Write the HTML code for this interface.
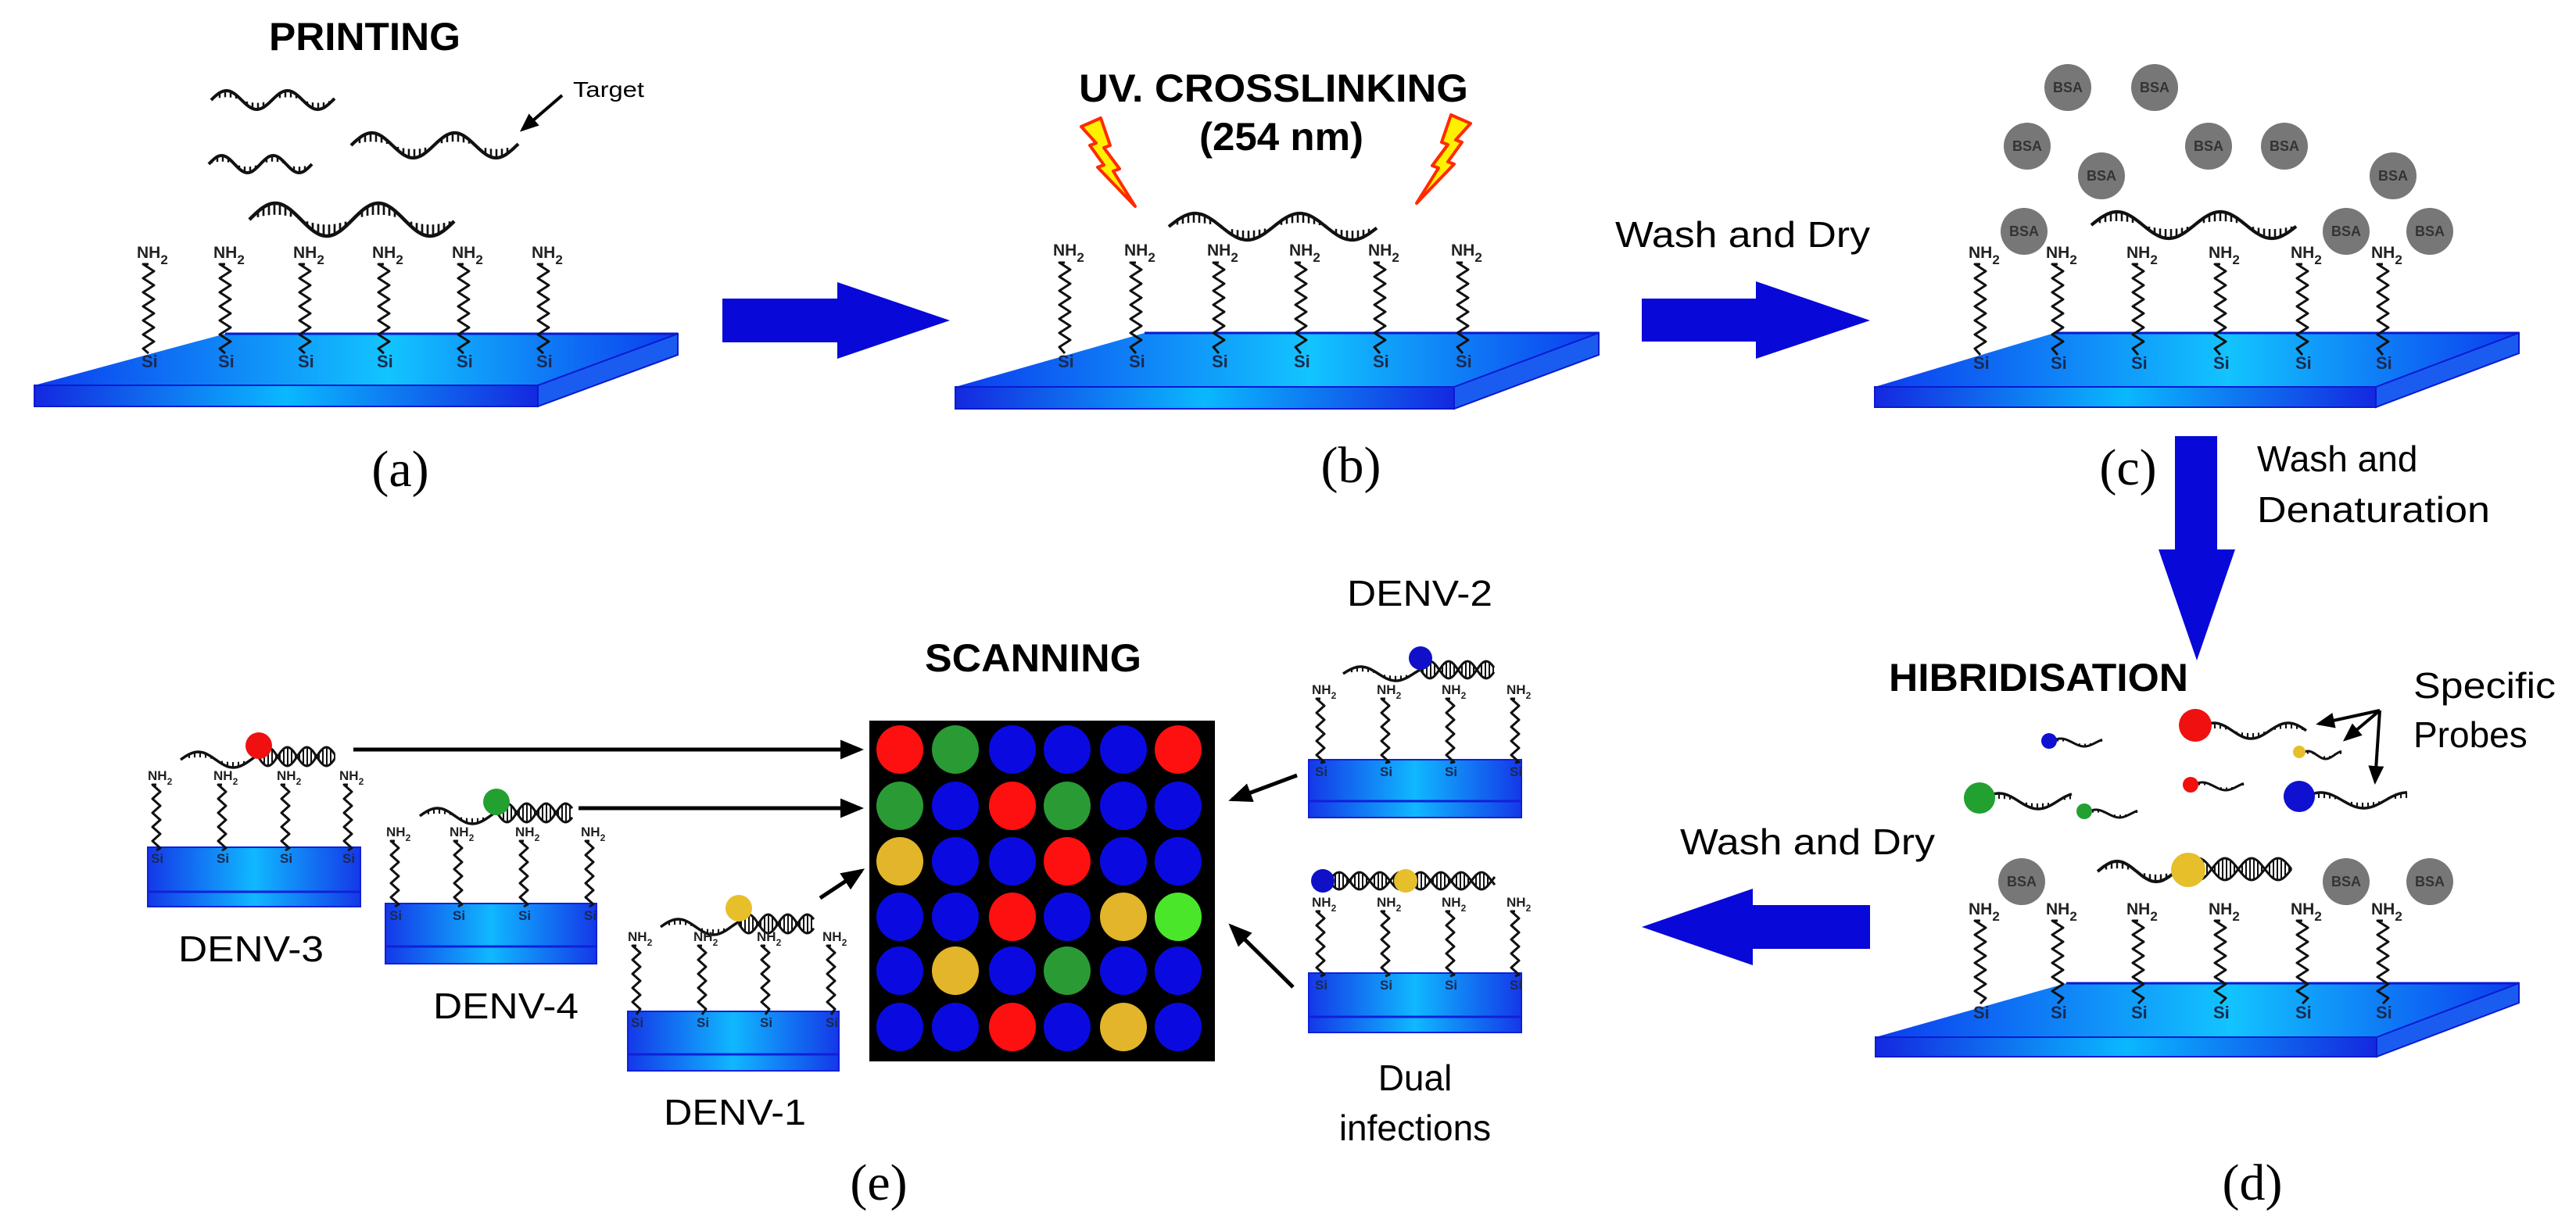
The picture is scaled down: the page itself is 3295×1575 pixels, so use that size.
<!DOCTYPE html>
<html><head><meta charset="utf-8"><style>
html,body{margin:0;padding:0;background:#fff;}
svg{display:block;}
.nh{font-family:"Liberation Sans",sans-serif;font-weight:bold;font-size:21px;fill:#222;}
.nhs{font-family:"Liberation Sans",sans-serif;font-weight:bold;font-size:17px;fill:#222;}
.si{font-family:"Liberation Sans",sans-serif;font-weight:bold;font-size:22px;fill:#1a2a50;}
.sis{font-family:"Liberation Sans",sans-serif;font-weight:bold;font-size:17px;fill:#1a2a50;}
.bsa{font-family:"Liberation Sans",sans-serif;font-weight:bold;font-size:18px;fill:#333;}
.t{font-family:"Liberation Sans",sans-serif;font-size:46px;fill:#000;}
.b{font-family:"Liberation Sans",sans-serif;font-weight:bold;font-size:50px;fill:#000;}
.l{font-family:"Liberation Serif",serif;font-size:66px;fill:#000;}
</style></head><body>
<svg id="svg" xmlns="http://www.w3.org/2000/svg" width="3295" height="1575" viewBox="0 0 3295 1575">
<defs>
<linearGradient id="gF" x1="0" x2="1" y1="0" y2="0"><stop offset="0" stop-color="#1428e0"/><stop offset="0.5" stop-color="#0ab8ff"/><stop offset="1" stop-color="#1428e0"/></linearGradient>
<linearGradient id="gT" x1="0" x2="1" y1="0" y2="0"><stop offset="0" stop-color="#0c3cee"/><stop offset="0.55" stop-color="#12c4ff"/><stop offset="1" stop-color="#0c3cee"/></linearGradient>
<linearGradient id="gP" x1="0" x2="1" y1="0" y2="0"><stop offset="0" stop-color="#1438e8"/><stop offset="0.5" stop-color="#10b8ff"/><stop offset="1" stop-color="#1438e8"/></linearGradient>
<marker id="ah" markerWidth="6" markerHeight="6" refX="5" refY="3" orient="auto" markerUnits="strokeWidth"><path d="M0,0.5 L6,3 L0,5.5 z" fill="#000"/></marker>
</defs>
<g id="shapes"></g>
<g id="texts">
<text class="b" x="344" y="64" textLength="245" lengthAdjust="spacingAndGlyphs">PRINTING</text>
<text class="b" x="1380" y="130" textLength="498" lengthAdjust="spacingAndGlyphs">UV. CROSSLINKING</text>
<text class="b" x="1534" y="192" textLength="210" lengthAdjust="spacingAndGlyphs">(254 nm)</text>
<text class="b" x="1183" y="859" textLength="277" lengthAdjust="spacingAndGlyphs">SCANNING</text>
<text class="b" x="2416" y="884" textLength="383" lengthAdjust="spacingAndGlyphs">HIBRIDISATION</text>
<text class="t" x="733" y="124" textLength="91" lengthAdjust="spacingAndGlyphs" style="font-size:28px">Target</text>
<text class="t" x="2066" y="316" textLength="326" lengthAdjust="spacingAndGlyphs">Wash and Dry</text>
<text class="t" x="2887" y="603">Wash and</text>
<text class="t" x="2887" y="668" textLength="298" lengthAdjust="spacingAndGlyphs">Denaturation</text>
<text class="t" x="3087" y="893" textLength="182" lengthAdjust="spacingAndGlyphs">Specific</text>
<text class="t" x="3087" y="956">Probes</text>
<text class="t" x="2149" y="1093" textLength="326" lengthAdjust="spacingAndGlyphs">Wash and Dry</text>
<text class="t" x="1723" y="775" textLength="186" lengthAdjust="spacingAndGlyphs">DENV-2</text>
<text class="t" x="228" y="1230" textLength="186" lengthAdjust="spacingAndGlyphs">DENV-3</text>
<text class="t" x="554" y="1303" textLength="186" lengthAdjust="spacingAndGlyphs">DENV-4</text>
<text class="t" x="849" y="1439" textLength="182" lengthAdjust="spacingAndGlyphs">DENV-1</text>
<text class="t" x="1810" y="1395" text-anchor="middle">Dual</text>
<text class="t" x="1810" y="1459" text-anchor="middle">infections</text>
<text class="l" x="512" y="622" text-anchor="middle">(a)</text>
<text class="l" x="1728" y="617" text-anchor="middle">(b)</text>
<text class="l" x="2722" y="620" text-anchor="middle">(c)</text>
<text class="l" x="2881" y="1535" text-anchor="middle">(d)</text>
<text class="l" x="1124" y="1535" text-anchor="middle">(e)</text>

<text class="nh" x="175" y="330">NH<tspan class="nhs" dy="8">2</tspan></text>
<text class="nh" x="273" y="330">NH<tspan class="nhs" dy="8">2</tspan></text>
<text class="nh" x="375" y="330">NH<tspan class="nhs" dy="8">2</tspan></text>
<text class="nh" x="476" y="330">NH<tspan class="nhs" dy="8">2</tspan></text>
<text class="nh" x="578" y="330">NH<tspan class="nhs" dy="8">2</tspan></text>
<text class="nh" x="680" y="330">NH<tspan class="nhs" dy="8">2</tspan></text>
<text class="si" x="181" y="470">Si</text><text class="si" x="279" y="470">Si</text><text class="si" x="381" y="470">Si</text><text class="si" x="482" y="470">Si</text><text class="si" x="584" y="470">Si</text><text class="si" x="686" y="470">Si</text>
<text class="nh" x="1347" y="327">NH<tspan class="nhs" dy="8">2</tspan></text>
<text class="nh" x="1438" y="327">NH<tspan class="nhs" dy="8">2</tspan></text>
<text class="nh" x="1544" y="327">NH<tspan class="nhs" dy="8">2</tspan></text>
<text class="nh" x="1649" y="327">NH<tspan class="nhs" dy="8">2</tspan></text>
<text class="nh" x="1750" y="327">NH<tspan class="nhs" dy="8">2</tspan></text>
<text class="nh" x="1856" y="327">NH<tspan class="nhs" dy="8">2</tspan></text>
<text class="si" x="1353" y="470">Si</text><text class="si" x="1444" y="470">Si</text><text class="si" x="1550" y="470">Si</text><text class="si" x="1655" y="470">Si</text><text class="si" x="1756" y="470">Si</text><text class="si" x="1862" y="470">Si</text>
<text class="nh" x="2518" y="330">NH<tspan class="nhs" dy="8">2</tspan></text>
<text class="nh" x="2617" y="330">NH<tspan class="nhs" dy="8">2</tspan></text>
<text class="nh" x="2720" y="330">NH<tspan class="nhs" dy="8">2</tspan></text>
<text class="nh" x="2825" y="330">NH<tspan class="nhs" dy="8">2</tspan></text>
<text class="nh" x="2930" y="330">NH<tspan class="nhs" dy="8">2</tspan></text>
<text class="nh" x="3033" y="330">NH<tspan class="nhs" dy="8">2</tspan></text>
<text class="si" x="2524" y="472">Si</text><text class="si" x="2623" y="472">Si</text><text class="si" x="2726" y="472">Si</text><text class="si" x="2831" y="472">Si</text><text class="si" x="2936" y="472">Si</text><text class="si" x="3039" y="472">Si</text>
<text class="nh" x="2518" y="1170">NH<tspan class="nhs" dy="8">2</tspan></text>
<text class="nh" x="2617" y="1170">NH<tspan class="nhs" dy="8">2</tspan></text>
<text class="nh" x="2720" y="1170">NH<tspan class="nhs" dy="8">2</tspan></text>
<text class="nh" x="2825" y="1170">NH<tspan class="nhs" dy="8">2</tspan></text>
<text class="nh" x="2930" y="1170">NH<tspan class="nhs" dy="8">2</tspan></text>
<text class="nh" x="3033" y="1170">NH<tspan class="nhs" dy="8">2</tspan></text>
<text class="si" x="2524" y="1303">Si</text><text class="si" x="2623" y="1303">Si</text><text class="si" x="2726" y="1303">Si</text><text class="si" x="2831" y="1303">Si</text><text class="si" x="2936" y="1303">Si</text><text class="si" x="3039" y="1303">Si</text>
<text class="nhs" x="189" y="998">NH<tspan font-size="12" dy="6">2</tspan></text>
<text class="nhs" x="273" y="998">NH<tspan font-size="12" dy="6">2</tspan></text>
<text class="nhs" x="354" y="998">NH<tspan font-size="12" dy="6">2</tspan></text>
<text class="nhs" x="434" y="998">NH<tspan font-size="12" dy="6">2</tspan></text>
<text class="sis" x="193" y="1104">Si</text><text class="sis" x="277" y="1104">Si</text><text class="sis" x="358" y="1104">Si</text><text class="sis" x="438" y="1104">Si</text>
<text class="nhs" x="494" y="1070">NH<tspan font-size="12" dy="6">2</tspan></text>
<text class="nhs" x="575" y="1070">NH<tspan font-size="12" dy="6">2</tspan></text>
<text class="nhs" x="659" y="1070">NH<tspan font-size="12" dy="6">2</tspan></text>
<text class="nhs" x="743" y="1070">NH<tspan font-size="12" dy="6">2</tspan></text>
<text class="sis" x="498" y="1177">Si</text><text class="sis" x="579" y="1177">Si</text><text class="sis" x="663" y="1177">Si</text><text class="sis" x="747" y="1177">Si</text>
<text class="nhs" x="803" y="1204">NH<tspan font-size="12" dy="6">2</tspan></text>
<text class="nhs" x="887" y="1204">NH<tspan font-size="12" dy="6">2</tspan></text>
<text class="nhs" x="968" y="1204">NH<tspan font-size="12" dy="6">2</tspan></text>
<text class="nhs" x="1052" y="1204">NH<tspan font-size="12" dy="6">2</tspan></text>
<text class="sis" x="807" y="1314">Si</text><text class="sis" x="891" y="1314">Si</text><text class="sis" x="972" y="1314">Si</text><text class="sis" x="1056" y="1314">Si</text>
<text class="nhs" x="1678" y="888">NH<tspan font-size="12" dy="6">2</tspan></text>
<text class="nhs" x="1761" y="888">NH<tspan font-size="12" dy="6">2</tspan></text>
<text class="nhs" x="1844" y="888">NH<tspan font-size="12" dy="6">2</tspan></text>
<text class="nhs" x="1927" y="888">NH<tspan font-size="12" dy="6">2</tspan></text>
<text class="sis" x="1682" y="993">Si</text><text class="sis" x="1765" y="993">Si</text><text class="sis" x="1848" y="993">Si</text><text class="sis" x="1931" y="993">Si</text>
<text class="nhs" x="1678" y="1160">NH<tspan font-size="12" dy="6">2</tspan></text>
<text class="nhs" x="1761" y="1160">NH<tspan font-size="12" dy="6">2</tspan></text>
<text class="nhs" x="1844" y="1160">NH<tspan font-size="12" dy="6">2</tspan></text>
<text class="nhs" x="1927" y="1160">NH<tspan font-size="12" dy="6">2</tspan></text>
<text class="sis" x="1682" y="1266">Si</text><text class="sis" x="1765" y="1266">Si</text><text class="sis" x="1848" y="1266">Si</text><text class="sis" x="1931" y="1266">Si</text>
</g>
<g id="top"></g>
<g id="bsatext">
<text class="bsa" x="2645" y="118" text-anchor="middle">BSA</text>
<text class="bsa" x="2756" y="118" text-anchor="middle">BSA</text>
<text class="bsa" x="2593" y="193" text-anchor="middle">BSA</text>
<text class="bsa" x="2688" y="231" text-anchor="middle">BSA</text>
<text class="bsa" x="2825" y="193" text-anchor="middle">BSA</text>
<text class="bsa" x="2922" y="193" text-anchor="middle">BSA</text>
<text class="bsa" x="3061" y="231" text-anchor="middle">BSA</text>
<text class="bsa" x="2589" y="302" text-anchor="middle">BSA</text>
<text class="bsa" x="3001" y="302" text-anchor="middle">BSA</text>
<text class="bsa" x="3108" y="302" text-anchor="middle">BSA</text>
<text class="bsa" x="2586" y="1134" text-anchor="middle">BSA</text>
<text class="bsa" x="3001" y="1134" text-anchor="middle">BSA</text>
<text class="bsa" x="3108" y="1134" text-anchor="middle">BSA</text>
</g>
</svg>
<script>
const NS='http://www.w3.org/2000/svg';
const G=document.getElementById('shapes');
const T=document.getElementById('top');
function el(tag,a,p){const e=document.createElementNS(NS,tag);for(const k in a)e.setAttribute(k,a[k]);(p||G).appendChild(e);return e;}
function poly(pts,a,p){a=a||{};a.points=pts.map(q=>q.join(',')).join(' ');return el('polygon',a,p);}
function slide(fl,fr,bl,br,bt,ft,fb){
  const h=fb-ft;
  poly([[fl,ft],[fr,ft],[br,bt],[bl,bt]],{fill:'url(#gT)'});
  el('line',{x1:bl,y1:bt,x2:br,y2:bt,stroke:'#0a1ad0','stroke-width':3});
  el('rect',{x:fl,y:ft,width:fr-fl,height:h,fill:'url(#gF)',stroke:'#0a1ad0','stroke-width':2});
  poly([[fr,ft],[br,bt],[br,bt+h],[fr,fb]],{fill:'#1a5cf0',stroke:'#0a1ad0','stroke-width':2});
}
function panel(x,y,w,h,line){
  el('rect',{x:x,y:y,width:w,height:h,fill:'url(#gP)',stroke:'#1020d8','stroke-width':2});
  el('line',{x1:x,y1:line,x2:x+w,y2:line,stroke:'#1020d8','stroke-width':3});
}
function chain(x,y1,y2,amp){amp=amp||7;let d='M'+x+','+y1;const per=18;for(let y=y1;y<=y2;y+=per/2){const i=Math.round((y-y1)/(per/2));d+=' L'+(x+(i%2?amp:-amp))+','+y;}d+=' L'+x+','+y2;el('path',{d:d,fill:'none',stroke:'#111','stroke-width':3,'stroke-linejoin':'round'});}
function ss(x1,x2,yc,amp,per,ph,sw,p){
  ph=ph||0;sw=(sw||3)+1;let d='';
  for(let x=x1;x<=x2;x+=2){const y=yc-amp*Math.sin(2*Math.PI*(x-x1)/per+ph);d+=(d?' L':'M')+x+','+y.toFixed(1);}
  el('path',{d:d,fill:'none',stroke:'#111','stroke-width':sw},p);
  let t='';
  for(let x=x1+4;x<=x2;x+=7){const s=Math.sin(2*Math.PI*(x-x1)/per+ph);if(Math.abs(s)<0.35)continue;const y=yc-amp*s;t+='M'+x+','+y.toFixed(1)+' L'+x+','+(y+s*amp*0.7).toFixed(1)+' ';}
  if(t)el('path',{d:t,fill:'none',stroke:'#111','stroke-width':Math.max(2,sw*0.6)},p);
}
function ds(x1,x2,yc,amp,per,p){
  let d1='',d2='',r='';
  for(let x=x1;x<=x2;x+=2){const s=Math.sin(2*Math.PI*(x-x1)/per);d1+=(d1?' L':'M')+x+','+(yc-amp*s).toFixed(1);d2+=(d2?' L':'M')+x+','+(yc+amp*s).toFixed(1);}
  for(let x=x1+3;x<=x2;x+=5){const s=Math.sin(2*Math.PI*(x-x1)/per);r+='M'+x+','+(yc-amp*s).toFixed(1)+' L'+x+','+(yc+amp*s).toFixed(1)+' ';}
  el('path',{d:r,stroke:'#111','stroke-width':2,fill:'none'},p);
  el('path',{d:d1,stroke:'#111','stroke-width':3,fill:'none'},p);
  el('path',{d:d2,stroke:'#111','stroke-width':3,fill:'none'},p);
}
function dot(x,y,r,c,p){el('circle',{cx:x,cy:y,r:r,fill:c},p);}
function arrow(x1,y1,x2,y2,w){el('line',{x1:x1,y1:y1,x2:x2,y2:y2,stroke:'#000','stroke-width':w||5,'marker-end':'url(#ah)'});}
const BL='#0808d8';

slide(44,688,288,867,427,493,520);
slide(1222,1860,1464,2045,426,495,523);
slide(2398,3039,2628,3222,426,495,521);
slide(2399,3040,2643,3222,1258,1327,1352);
[190,288,390,491,593,695].forEach(x=>chain(x,338,452));
[1362,1453,1559,1664,1765,1871].forEach(x=>chain(x,336,452));
[2533,2632,2735,2840,2945,3048].forEach(x=>chain(x,338,454));
[2533,2632,2735,2840,2945,3048].forEach(x=>chain(x,1178,1284));
panel(189,1084,272,76,1141);
panel(493,1156,270,77,1211);
panel(803,1294,270,76,1349);
panel(1674,972,272,74,1025);
panel(1674,1245,272,76,1301);
[200,284,365,445].forEach(x=>chain(x,1004,1088,5));
[505,586,670,754].forEach(x=>chain(x,1076,1160,5));
[814,898,979,1063].forEach(x=>chain(x,1210,1298,5));
[1689,1772,1855,1938].forEach(x=>chain(x,894,976,5));
[1689,1772,1855,1938].forEach(x=>chain(x,1166,1249,5));

ss(270,428,128,12,78,0,3);
ss(267,400,210,11,66,0,3);
ss(449,663,186,16,106,0,3.2);
ss(319,582,281,21,132,0,3.5);
ss(1495,1762,290,17,134,0,3.2);
ss(2675,2937,288,17,132,0,3.2);
ss(2683,2795,1115,13,100,0,3); ds(2795,2932,1112,14,68); dot(2799,1113,22,'#e6bf2a');
ss(2808,2950,935,10,95,0,2.5); dot(2808,928,21,'#f01010');
ss(2941,2995,966,5,45,0,2); dot(2941,962,8,'#e6bf2a');
ss(2621,2690,950,5,60,0,2); dot(2621,948,10,'#1010d0');
ss(2532,2650,1025,10,100,0,2.5); dot(2532,1021,20,'#22a030');
ss(2666,2735,1041,5,60,0,2); dot(2666,1038,10,'#22a030');
ss(2802,2870,1006,5,60,0,2); dot(2802,1004,10,'#f01010');
ss(2941,3080,1024,10,110,0,2.5); dot(2941,1019,20,'#1010d0');
[[2645,112],[2756,112],[2593,187],[2688,225],[2825,187],[2922,187],[3061,225],[2589,296],[3001,296],[3108,296],[2586,1128],[3001,1128],[3108,1128]].forEach(q=>el('circle',{cx:q[0],cy:q[1],r:30,fill:'#777'},T));
ss(231,330,972,10,90,0,2.5); ds(330,428,968,12,50); dot(331,954,17,'#f01010');
ss(537,636,1044,10,90,0,2.5); ds(636,733,1040,12,50); dot(635,1026,17,'#22a030');
ss(845,945,1186,10,90,0,2.5); ds(945,1042,1182,12,50); dot(945,1162,17,'#e6bf2a');
ss(1718,1817,862,9,90,0,2.5); ds(1817,1912,857,11,48); dot(1817,842,15,'#1010c8');
ds(1700,1912,1127,11,52); dot(1692,1127,15,'#1010c8'); dot(1798,1127,15,'#e6bf2a');

poly([[924,382],[1071,382],[1071,361],[1215,410],[1071,459],[1071,438],[924,438]],{fill:BL});
poly([[2100,382],[2246,382],[2246,360],[2392,410],[2246,459],[2246,437],[2100,437]],{fill:BL});
poly([[2782,558],[2836,558],[2836,703],[2859,703],[2810,845],[2761,703],[2782,703]],{fill:BL});
poly([[2392,1158],[2242,1158],[2242,1137],[2100,1186],[2242,1235],[2242,1214],[2392,1214]],{fill:BL});
const bolt=[[1383,162],[1408,151],[1420,186],[1412,189],[1432,216],[1424,219],[1452,264],[1404,214],[1412,211],[1394,186],[1402,183]];
poly(bolt,{fill:'#fff000',stroke:'#ff2a00','stroke-width':4,'stroke-linejoin':'round'});
poly(bolt,{fill:'#fff000',stroke:'#ff2a00','stroke-width':4,'stroke-linejoin':'round',transform:'translate(3264,-4) scale(-1,1)'});
el('rect',{x:1112,y:922,width:442,height:436,fill:'#000'});
const cols=[1151,1222,1295,1365,1437,1507],rows=[959,1031,1102,1173,1242,1314];
const R='#ff1010',Gn='#2a9a35',B='#0a0ae0',Y='#e2b52a',LG='#4ae62a';
const grid=[[R,Gn,B,B,B,R],[Gn,B,R,Gn,B,B],[Y,B,B,R,B,B],[B,B,R,B,Y,LG],[B,Y,B,Gn,B,B],[B,B,R,B,Y,B]];
grid.forEach((r,i)=>r.forEach((c,j)=>el('ellipse',{cx:cols[j],cy:rows[i],rx:30,ry:31,fill:c})));
arrow(452,959,1100,959,5);
arrow(740,1034,1100,1034,5);
arrow(1049,1149,1102,1114,5);
arrow(1659,992,1576,1023,5);
arrow(1654,1263,1575,1185,5);
arrow(719,122,668,166,4);
arrow(3044,909,2966,926,4);
arrow(3044,909,3000,946,4);
arrow(3044,909,3038,1000,4);
</script>
</body></html>
